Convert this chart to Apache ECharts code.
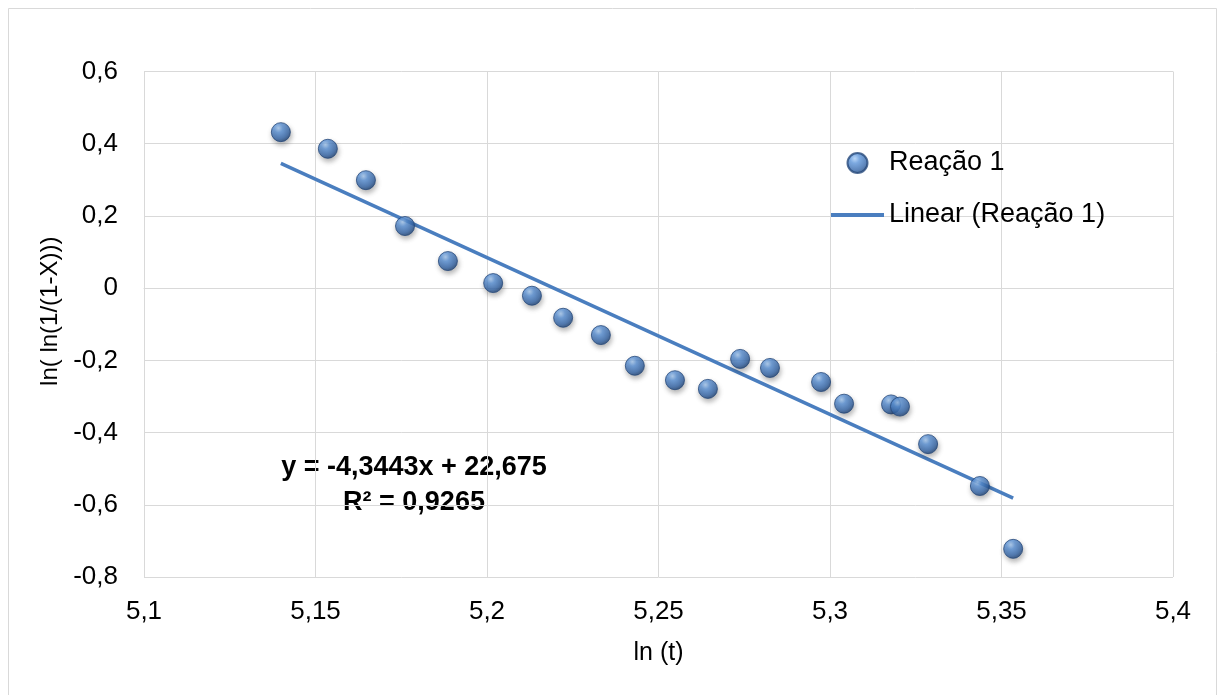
<!DOCTYPE html>
<html>
<head>
<meta charset="utf-8">
<script src="https://cdn.jsdelivr.net/npm/echarts@6/dist/echarts.min.js"></script>
<style>
html,body{margin:0;padding:0;background:#fff;}
#chart{width:1218px;height:695px;}
</style>
</head>
<body>
<div id="chart"></div>
<script>
// ---- data ----
const lnT = [5.1399, 5.1536, 5.1647, 5.1761, 5.1886, 5.2018, 5.2131, 5.2222, 5.2332, 5.2431,
             5.2548, 5.2644, 5.2738, 5.2825, 5.2974, 5.3041, 5.3178, 5.3204, 5.3286, 5.3437, 5.3534];
const lnLn = [0.432, 0.386, 0.299, 0.172, 0.075, 0.014, -0.021, -0.082, -0.130, -0.215,
              -0.255, -0.279, -0.196, -0.221, -0.260, -0.320, -0.322, -0.328, -0.432, -0.548, -0.722];
const seriesName = 'Reação 1';
const trendName = 'Linear (Reação 1)';
const trendSlope = -4.3443;
const trendIntercept = 22.675;
const equationLines = ['y = -4,3443x + 22,675', 'R² = 0,9265'];
const xAxisName = 'ln (t)';
const yAxisName = 'ln( ln(1/(1-X)))';
const xMin = 5.1, xMax = 5.4, xStep = 0.05;
const yMin = -0.8, yMax = 0.6, yStep = 0.2;

const points = lnT.map((x, i) => [x, lnLn[i]]);
const xFirst = Math.min(...lnT), xLast = Math.max(...lnT);
const trendPoints = [xFirst, xLast].map(x => [x, trendSlope * x + trendIntercept]);

const fmt = (v, d) => String(Math.round(v * Math.pow(10, d)) / Math.pow(10, d)).replace('.', ',');
const FONT = '"Liberation Sans", Arial, sans-serif';
const gridColor = '#d9d9d9';
const lineColor = '#4a7ebf';

const chart = echarts.init(document.getElementById('chart'), null, {renderer: 'canvas'});
chart.setOption({
  backgroundColor: '#ffffff',
  animation: false,
  textStyle: {fontFamily: FONT},
  grid: {left: 144, top: 71.5, right: 45, bottom: 118, containLabel: false, outerBoundsMode: 'none'},
  xAxis: {
    type: 'value', min: xMin, max: xMax, interval: xStep,
    name: xAxisName, nameLocation: 'middle', nameGap: 64,
    nameTextStyle: {fontSize: 25, color: '#000', fontFamily: FONT},
    axisLine: {show: true, lineStyle: {color: gridColor, width: 1}},
    axisTick: {show: false},
    splitLine: {show: true, lineStyle: {color: gridColor, width: 1}},
    axisLabel: {fontSize: 26, color: '#000', margin: 22, fontFamily: FONT, formatter: v => fmt(v, 2)}
  },
  yAxis: {
    type: 'value', min: yMin, max: yMax, interval: yStep,
    name: yAxisName, nameLocation: 'middle', nameGap: 80, nameRotate: 90,
    nameTextStyle: {fontSize: 24, color: '#000', fontFamily: FONT, padding: [0, 0, 0, 26]},
    axisLine: {show: true, lineStyle: {color: gridColor, width: 1}},
    axisTick: {show: false},
    splitLine: {show: true, lineStyle: {color: gridColor, width: 1}},
    axisLabel: {fontSize: 26, color: '#000', margin: 26, fontFamily: FONT, formatter: v => fmt(v, 1)}
  },
  legend: {
    orient: 'vertical', left: 831, top: 148, padding: 0,
    itemWidth: 53, itemHeight: 20, itemGap: 22, symbolKeepAspect: true,
    textStyle: {fontSize: 27, color: '#000', fontFamily: FONT, lineHeight: 30},
    data: [
      {name: seriesName, icon: 'circle'},
      {name: trendName, icon: 'path://M0,0h53v4h-53z', itemStyle: {color: lineColor}}
    ]
  },
  series: [
    {
      name: trendName, type: 'line', data: trendPoints, symbol: 'none', showSymbol: false, z: 2,
      lineStyle: {color: lineColor, width: 3.5},
      itemStyle: {color: lineColor}
    },
    {
      name: seriesName, type: 'scatter', data: points, symbol: 'circle', symbolSize: 19, z: 3,
      itemStyle: {
        color: {type: 'radial', x: 0.38, y: 0.3, r: 0.72,
          colorStops: [{offset: 0, color: '#a9cdf6'}, {offset: 0.3, color: '#5b93d8'},
                       {offset: 0.75, color: '#3566a8'}, {offset: 1, color: '#1e406f'}]},
        borderColor: '#26497a', borderWidth: 1,
        shadowBlur: 5, shadowColor: 'rgba(0,0,0,0.35)', shadowOffsetX: 1, shadowOffsetY: 3
      }
    }
  ],
  graphic: [
    {type: 'rect', shape: {x: 8.5, y: 8.5, width: 1208, height: 700}, style: {fill: 'none', stroke: gridColor, lineWidth: 1}, silent: true, z: -1},
    {type: 'text', x: 414, y: 468, style: {text: equationLines[0], font: 'bold 27px ' + FONT, fill: '#000', textAlign: 'center', textVerticalAlign: 'middle'}},
    {type: 'text', x: 414, y: 503, style: {text: equationLines[1], font: 'bold 27px ' + FONT, fill: '#000', textAlign: 'center', textVerticalAlign: 'middle'}}
  ]
});
</script>
</body>
</html>
